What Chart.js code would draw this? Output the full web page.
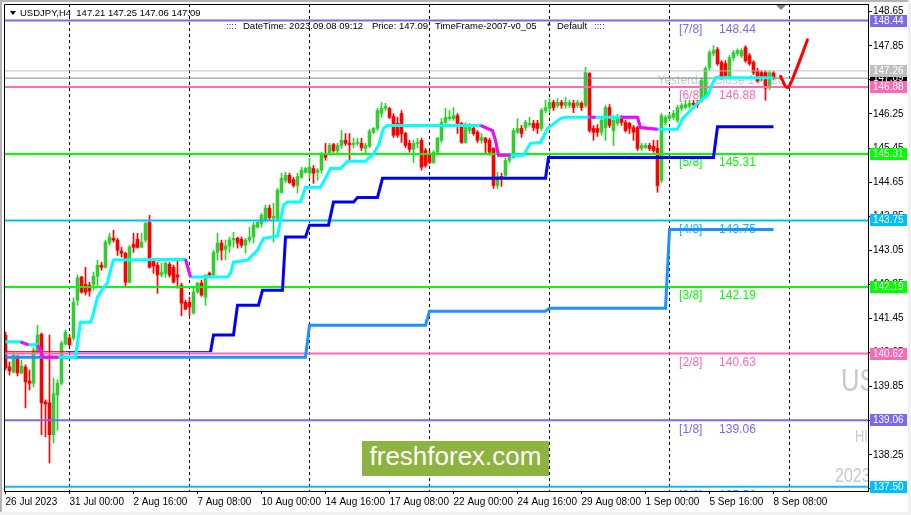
<!DOCTYPE html>
<html>
<head>
<meta charset="utf-8">
<script src="https://cdn.jsdelivr.net/npm/chart.js@4.4.0/dist/chart.umd.min.js"></script>
<style>
html, body { margin: 0; padding: 0; background: #fff; }
#wrap { position: relative; width: 911px; height: 515px; overflow: hidden; }
#logo {
    position: absolute; left: 362px; top: 441px; width: 187px; height: 35px;
    background: #8db340; color: #fff; text-align: center; line-height: 34px;
    font: 26px "Liberation Sans", Arial, sans-serif;
}
</style>
</head>
<body>
<div id="wrap">
    <canvas id="chart" width="911" height="515"></canvas>
    <div id="logo">freshforex.com</div>
</div>
<script>
// USDJPY H4 - bar 0 = 26 Jul 2023 08:00, bar 192 = 8 Sep 2023 08:00
const opens = [141.06,140.31,140.19,140.54,140.17,140.31,139.98,139.93,140.66,141.08,
    139.49,139.47,138.72,139.65,139.93,140.85,140.99,140.99,141.88,142.42,
    142.25,142.23,142.25,142.44,142.70,142.65,143.22,143.33,143.29,143.03,
    142.98,142.30,143.19,143.31,143.12,143.29,143.71,142.79,142.70,142.47,
    142.51,142.72,142.65,142.47,142.23,141.83,141.83,141.58,142.07,142.28,
    141.95,142.51,142.47,143.00,143.22,143.07,143.15,143.29,143.33,143.31,
    143.17,143.29,143.36,143.59,143.68,143.75,144.04,143.80,143.80,144.41,
    144.69,144.81,144.71,144.57,144.76,144.88,144.86,144.97,144.88,144.93,
    145.32,145.32,145.53,145.39,145.51,145.63,145.56,145.53,145.56,145.56,
    145.44,145.49,145.82,145.91,146.26,146.38,146.38,146.19,146.03,146.26,
    145.79,145.56,145.42,145.56,145.63,145.39,145.28,145.11,145.35,145.63,
    146.05,146.14,146.14,146.21,146.03,145.58,145.86,145.91,145.82,145.63,
    145.68,145.63,145.44,144.57,144.78,144.81,145.16,145.23,145.82,145.91,
    145.93,146.00,146.03,146.03,145.91,146.33,146.38,146.52,146.45,146.52,
    146.45,146.45,146.50,146.45,146.50,146.45,147.20,145.91,145.91,145.82,
    145.93,146.40,145.86,146.03,146.17,146.05,146.03,145.93,145.93,145.44,
    145.46,145.51,145.49,145.44,144.69,146.05,146.14,146.17,146.10,146.38,
    146.40,146.43,146.50,146.50,146.57,146.64,147.34,147.67,147.76,147.46,
    147.43,147.10,147.57,147.67,147.62,147.81,147.62,147.46,147.27,147.22,
    147.22,146.87,147.21];
const highs = [141.13,140.43,140.66,140.59,140.47,140.36,140.24,140.76,141.29,141.11,
    139.54,141.06,140.05,140.01,140.92,141.18,141.06,141.93,142.47,142.44,
    142.65,142.30,142.54,142.82,142.77,143.29,143.45,143.52,143.33,143.12,
    143.00,143.17,143.45,143.45,143.45,143.71,143.87,142.86,142.77,142.75,
    142.77,142.77,142.70,142.86,142.28,141.88,141.95,142.16,142.30,142.35,
    142.47,142.54,143.05,143.45,143.29,143.29,143.36,143.47,143.36,143.36,
    143.33,143.59,143.71,143.71,143.92,144.11,144.11,144.15,144.50,144.86,
    144.88,144.86,144.76,144.86,145.00,145.00,145.21,145.04,144.97,145.35,
    145.56,145.56,145.56,145.56,145.86,145.79,145.79,145.68,145.68,145.68,
    145.56,145.89,145.93,146.38,146.52,146.50,146.40,146.26,146.17,146.33,
    145.82,145.63,145.63,145.68,145.68,145.44,145.39,145.39,145.70,146.14,
    146.38,146.33,146.40,146.26,146.05,146.05,146.03,145.98,145.86,145.79,
    145.70,145.68,145.46,144.88,144.86,145.21,145.32,145.91,146.14,145.98,
    146.10,146.17,146.10,146.10,146.38,146.57,146.61,146.57,146.61,146.57,
    146.64,146.57,146.57,146.57,146.54,147.34,147.22,145.98,146.00,146.17,
    146.45,146.47,146.21,146.24,146.21,146.10,146.05,145.98,145.96,145.56,
    145.56,145.56,145.63,145.63,146.26,146.21,146.26,146.33,146.45,146.50,
    146.57,146.57,146.57,146.57,147.08,147.36,147.74,147.85,147.81,147.50,
    147.50,147.62,147.74,147.78,147.78,147.85,147.67,147.50,147.32,147.27,
    147.27,147.27,147.25];
const lows = [140.24,140.12,140.17,140.10,140.15,139.35,139.77,139.84,140.64,138.72,
    138.67,138.06,138.53,138.83,139.89,140.83,140.80,140.94,141.76,142.04,
    142.00,141.97,142.11,142.18,142.58,142.63,143.17,143.24,142.93,142.89,
    142.18,142.28,143.00,143.10,143.12,143.24,142.63,142.51,142.04,142.42,
    142.42,142.42,142.28,142.16,141.51,141.65,141.51,141.55,142.04,141.97,
    141.76,142.44,142.44,142.82,142.82,142.82,143.00,143.12,143.10,143.12,
    142.98,143.24,143.22,143.57,143.59,143.71,143.75,143.24,143.75,144.39,
    144.64,144.62,144.53,144.39,144.74,144.86,144.74,144.62,144.69,144.86,
    145.16,145.28,145.35,145.32,145.44,145.51,145.16,145.46,145.51,145.39,
    145.32,145.46,145.79,145.86,146.17,146.33,146.14,145.70,145.70,145.58,
    145.46,145.35,145.11,145.46,144.93,145.00,145.09,145.09,145.32,145.58,
    146.03,146.10,146.10,145.79,145.56,145.56,145.79,145.75,145.58,145.56,
    145.32,145.28,144.50,144.50,144.55,144.74,145.11,145.21,145.79,145.70,
    145.86,145.96,145.86,145.79,145.86,146.28,146.28,146.33,146.40,146.38,
    146.38,146.40,146.28,146.40,146.33,146.40,145.82,145.63,145.72,145.75,
    145.63,145.93,145.51,145.98,145.98,145.82,145.79,145.63,145.39,145.39,
    145.44,145.39,145.35,144.41,144.64,145.98,146.10,146.12,146.05,146.33,
    146.38,146.38,146.40,146.40,146.52,146.61,147.27,147.62,147.39,147.06,
    147.08,147.08,147.50,147.62,147.57,147.46,147.39,147.17,146.99,147.03,
    146.57,146.82,147.06];
const closes = [140.29,140.22,140.59,140.17,140.33,139.96,139.93,140.71,141.06,139.47,
    139.44,138.72,139.68,139.93,140.87,141.13,140.83,141.83,142.40,142.07,
    142.07,142.09,142.44,142.70,142.65,143.24,143.36,143.29,143.05,142.98,
    142.30,143.12,143.12,143.12,143.24,143.68,142.65,142.68,142.47,142.54,
    142.75,142.47,142.30,142.42,141.81,141.67,141.72,142.07,142.28,142.00,
    142.47,142.47,143.00,143.22,143.05,143.15,143.29,143.33,143.22,143.17,
    143.29,143.36,143.64,143.71,143.87,144.04,143.82,143.85,144.46,144.74,
    144.81,144.64,144.57,144.78,144.93,144.97,145.00,144.86,144.93,145.32,
    145.23,145.51,145.39,145.51,145.63,145.56,145.53,145.56,145.58,145.46,
    145.51,145.84,145.91,146.33,146.38,146.43,146.17,145.75,145.75,145.79,
    145.51,145.42,145.56,145.58,145.00,145.04,145.11,145.35,145.68,146.05,
    146.17,146.17,146.21,146.03,145.58,145.93,145.93,145.79,145.63,145.70,
    145.58,145.35,144.57,144.78,144.76,145.16,145.23,145.86,145.91,145.79,
    146.05,146.03,145.93,145.91,146.33,146.40,146.52,146.40,146.52,146.45,
    146.52,146.52,146.40,146.52,146.40,147.22,145.86,145.82,145.82,146.10,
    146.40,145.98,146.10,146.17,146.05,145.86,145.91,145.82,145.44,145.51,
    145.51,145.44,145.39,144.57,146.21,146.17,146.21,146.26,146.40,146.45,
    146.47,146.50,146.47,146.47,147.03,147.32,147.69,147.74,147.43,147.10,
    147.15,147.57,147.69,147.74,147.74,147.50,147.43,147.22,147.03,147.08,
    146.85,147.22,147.09];

// time axis
const timeTickIdx = [0, 16, 32, 48, 64, 80, 96, 112, 128, 144, 160, 176, 192];
const timeTickLabels = ['26 Jul 2023', '31 Jul 00:00', '2 Aug 16:00', '7 Aug 08:00', '10 Aug 00:00',
    '14 Aug 16:00', '17 Aug 08:00', '22 Aug 00:00', '24 Aug 16:00', '29 Aug 08:00',
    '1 Sep 00:00', '5 Sep 16:00', '8 Sep 08:00'];
const weekStartIdx = [16, 46, 76, 106, 136, 166, 196];

// price axis
const priceTicks = [137.45, 138.25, 139.05, 139.85, 140.65, 141.45, 142.25, 143.05,
    143.85, 144.65, 145.45, 146.25, 147.05, 147.85, 148.65];

// Murrey math levels
const levelNames = ['[7/8]', '[6/8]', '[5/8]', '[4/8]', '[3/8]', '[2/8]', '[1/8]', '[0/8]'];
const levelValues = [148.44, 146.88, 145.31, 143.75, 142.19, 140.63, 139.06, 137.50];
const levelColors = ['#7b68ee', '#ff69b4', '#00ff00', '#00bfff', '#00ff00', '#ff69b4', '#7b68ee', '#00bfff'];

// price tags on the right scale
const tagValues = [147.09, 147.26, 148.44, 146.88, 145.31, 143.75, 142.19, 140.62, 139.06, 137.50];
const tagColors = ['#000000', '#c0c0c0', '#7b68ee', '#ff69b4', '#00ff00', '#00bfff', '#00ff00', '#ff69b4', '#7b68ee', '#00bfff'];

const yesterdayClose = 147.26;
const lastPrice = 147.09;

// trailing line (cyan), with magenta parts
const cyanX = [0, 3.75, 5.75, 8, 9.5, 13.25, 17.5, 18.75, 21.25, 21.75, 23, 23.75, 24.5, 25.5, 25.75, 27,
    45, 46.25, 55.5, 56.25, 57, 60.5, 61.25, 63, 64.5, 68, 68.75, 69.5, 70.5, 73.75, 75, 78.75,
    80, 81.25, 83.75, 85.5, 90, 92, 93.25, 94.5, 95.5, 118.75, 121.75, 122.5, 123.25, 129.5,
    131.25, 133.75, 135.5, 138.75, 140, 158, 158.75, 163, 168, 169.25, 171.25, 173.75, 175.5,
    176.75, 177.5, 192];
const cyanY = [140.90, 140.90, 140.83, 140.83, 140.54, 140.54, 140.54, 141.36, 141.36, 141.48, 141.95, 142.07, 142.18, 142.28, 142.40, 142.82,
    142.84, 142.42, 142.42, 142.51, 142.77, 142.82, 142.89, 143.05, 143.33, 143.38, 143.75, 144.11, 144.18, 144.18, 144.53, 144.53,
    144.74, 144.97, 144.97, 145.14, 145.14, 145.32, 145.51, 145.91, 145.98, 145.98, 145.86, 145.63, 145.28, 145.28,
    145.56, 145.58, 145.91, 146.14, 146.17, 146.17, 145.93, 145.89, 145.89, 146.14, 146.33, 146.57, 146.68,
    146.96, 147.10, 147.10];
const magentaX = [3.75, 5.75, null, 8, 9.5, 13.25, null, 45, 46.25, null,
    118.75, 121.75, 122.5, 123.25, 126.25, null, 145.75, 147.5, null, 153.75, 158, 158.75, 163];
const magentaY = [140.90, 140.83, null, 140.83, 140.54, 140.54, null, 142.84, 142.42, null,
    145.98, 145.86, 145.63, 145.28, 145.28, null, 146.17, 146.17, null, 146.17, 146.17, 145.93, 145.89];

// daily step line (blue) and weekly step line (dodger blue)
const blueX = [51.25, 52, 57, 58, 63.25, 64.25, 69.25, 70, 75, 76, 80.75, 82, 87, 88, 93, 94.25, 135, 135.75, 177, 178, 192];
const blueY = [140.66, 141.06, 141.06, 141.76, 141.76, 142.11, 142.11, 143.36, 143.36, 143.64, 143.64, 144.18, 144.18, 144.29, 144.29, 144.74, 144.74, 145.23, 145.23, 145.95, 145.95];
const baseRedX = [0, 15];
const baseBlueX = [15, 51.25];
const baseValue = 140.67;
const dodgerX = [0, 75, 76, 105, 106, 135, 136, 165, 166, 192];
const dodgerY = [140.54, 140.54, 141.29, 141.29, 141.62, 141.62, 141.69, 141.69, 143.54, 143.54];

// hand drawn forecast
const arrowX = [193.75, 195.5, 197.5, 200.5];
const arrowY = [147.13, 146.87, 147.25, 147.99];

const X_MIN = -0.375;
const X_MAX = 215.625;
const Y_MIN = 137.40;
const Y_MAX = 148.83;
const FONT = '"Liberation Sans", Arial, sans-serif';

const idx = opens.map((_, i) => i);
const candleColors = idx.map(i => closes[i] >= opens[i] ? '#32cd32' : '#ff0000');

function pts(xs, ys) {
    return xs.map((x, i) => ({ x: x === null ? 0 : x, y: ys[i] }));
}

function flat(xs, v) {
    return xs.map(x => ({ x: x, y: v }));
}

function lineDs(data, color, width, order, extra) {
    return Object.assign({
        type: 'line',
        data: data,
        borderColor: color,
        borderWidth: width,
        pointRadius: 0,
        fill: false,
        tension: 0,
        spanGaps: false,
        order: order,
        xAxisID: 'x',
        yAxisID: 'y'
    }, extra || {});
}

function noPad(s) {
    s.paddingTop = 0;
    s.paddingBottom = 0;
    s.paddingLeft = 0;
    s.paddingRight = 0;
}

const datasets = [];

datasets.push(lineDs(pts(arrowX, arrowY), '#ff0000', 3, 0, { tension: 0.35, borderCapStyle: 'round' }));
datasets.push(lineDs(pts(magentaX, magentaY), '#ff00ff', 3, 1));
datasets.push(lineDs(pts(cyanX, cyanY), '#00ffff', 3, 2));
datasets.push(lineDs(pts(blueX, blueY), '#0000ff', 3, 3));
datasets.push(lineDs(flat(baseBlueX, baseValue), '#0000ff', 1, 3));
datasets.push(lineDs(flat(baseRedX, baseValue), '#ff0000', 1, 3));
datasets.push(lineDs(pts(dodgerX, dodgerY), '#1e90ff', 3, 4));

levelValues.forEach((v, k) => {
    datasets.push(lineDs(flat([X_MIN, X_MAX], v), levelColors[k], 2, 5));
});
datasets.push(lineDs(flat([X_MIN, X_MAX], yesterdayClose), '#c0c0c0', 1, 6));
datasets.push(lineDs(flat([X_MIN, X_MAX], lastPrice), '#778899', 1, 6));

// candles: body over wick
datasets.push({
    type: 'bar',
    data: idx.map(i => ({ x: i, y: [opens[i], closes[i]] })),
    backgroundColor: candleColors,
    borderWidth: 0,
    barThickness: 3,
    minBarLength: 1,
    grouped: false,
    order: 7,
    xAxisID: 'x',
    yAxisID: 'y'
});
datasets.push({
    type: 'bar',
    data: idx.map(i => ({ x: i, y: [lows[i], highs[i]] })),
    backgroundColor: candleColors,
    borderWidth: 0,
    barThickness: 1,
    minBarLength: 1,
    grouped: false,
    order: 8,
    xAxisID: 'x',
    yAxisID: 'y'
});

const overlay = {
    id: 'overlay',
    beforeDraw(chart) {
        const { ctx, width, height } = chart;
        ctx.save();
        ctx.fillStyle = '#ffffff';
        ctx.fillRect(0, 0, width, height);
        ctx.restore();
    },
    beforeDatasetsDraw(chart) {
        const { ctx, chartArea: a } = chart;
        const xs = chart.scales.x, ys = chart.scales.y;
        ctx.save();
        ctx.beginPath();
        ctx.rect(a.left, a.top, a.right - a.left, a.bottom - a.top);
        ctx.clip();

        // watermark on the right edge (condensed)
        ctx.fillStyle = '#c8c8c8';
        ctx.textBaseline = 'alphabetic';
        ctx.save();
        ctx.scale(0.8, 1);
        ctx.font = '32px ' + FONT;
        ctx.fillText('USDJPY', 841 / 0.8, 391);
        ctx.font = '16px ' + FONT;
        ctx.fillText('HIGH', 855 / 0.8, 442);
        ctx.font = '20px ' + FONT;
        ctx.fillText('2023.09.08', 835 / 0.8, 482);
        ctx.restore();

        // yesterday close caption
        ctx.font = '12px ' + FONT;
        ctx.textBaseline = 'top';
        ctx.fillStyle = '#c8c8c8';
        ctx.fillText('Yesterday Close ' + yesterdayClose.toFixed(2), xs.getPixelForValue(163), ys.getPixelForValue(yesterdayClose) + 4);

        // Murrey level captions
        levelValues.forEach((v, k) => {
            const y = ys.getPixelForValue(v) + 3;
            ctx.fillStyle = levelColors[k];
            ctx.fillText(levelNames[k], xs.getPixelForValue(168.4), y);
            ctx.fillText(v.toFixed(2), xs.getPixelForValue(178.4), y);
        });
        ctx.restore();
    },
    afterDraw(chart) {
        const { ctx, chartArea: a, width, height } = chart;
        const xs = chart.scales.x, ys = chart.scales.y;
        ctx.save();

        // window frame
        ctx.fillStyle = '#b4b4b4';
        ctx.fillRect(0, 0, width, 2);
        ctx.fillRect(0, 0, 2, height);
        ctx.fillStyle = '#f0f0f0';
        ctx.fillRect(0, height - 3, width, 3);
        ctx.fillRect(width - 3, 0, 3, height);

        // chart frame
        ctx.strokeStyle = '#000';
        ctx.lineWidth = 1;
        ctx.beginPath();
        ctx.moveTo(a.left + 0.5, a.bottom);
        ctx.lineTo(a.left + 0.5, a.top + 0.5);
        ctx.lineTo(a.right, a.top + 0.5);
        ctx.stroke();

        // price tags
        ctx.font = '10px ' + FONT;
        ctx.textBaseline = 'middle';
        tagValues.forEach((v, k) => {
            const y = Math.round(ys.getPixelForValue(v));
            ctx.fillStyle = tagColors[k];
            ctx.fillRect(a.right + 2, y - 6, 37, 12);
            ctx.fillStyle = '#ffffff';
            ctx.fillText(v.toFixed(2), a.right + 5, y + 0.5);
        });

        // shift marker
        const mx = Math.round(xs.getPixelForValue(193.75));
        ctx.fillStyle = '#808080';
        ctx.beginPath();
        ctx.moveTo(mx - 5, a.top + 1);
        ctx.lineTo(mx + 5, a.top + 1);
        ctx.lineTo(mx, a.top + 6);
        ctx.closePath();
        ctx.fill();

        // header
        ctx.fillStyle = '#000';
        ctx.beginPath();
        ctx.moveTo(10, 11);
        ctx.lineTo(16, 11);
        ctx.lineTo(13, 15);
        ctx.closePath();
        ctx.fill();
        ctx.font = '9.5px ' + FONT;
        ctx.fillText('USDJPY,H4  ' + [opens[192], highs[192], lows[192], closes[192]].map(v => v.toFixed(2)).join(' '), 20, 13);

        const parts = [
            ['::::', '#800080', 226],
            ['DateTime: 2023.09.08 09:12', '#000', 243],
            ['Price: ' + lastPrice.toFixed(2), '#000', 372],
            ['TimeFrame-2007-v0_05', '#000', 435],
            ['*', '#000', 547],
            ['Default', '#000', 557],
            ['::::', '#800080', 594]
        ];
        ctx.font = '9.5px ' + FONT;
        parts.forEach(p => {
            ctx.fillStyle = p[1];
            ctx.fillText(p[0], p[2], 26);
        });
        ctx.restore();
    }
};

new Chart(document.getElementById('chart'), {
    type: 'bar',
    data: { datasets: datasets },
    options: {
        responsive: false,
        animation: false,
        events: [],
        layout: { padding: { left: 4, top: 4, right: 0, bottom: 0 } },
        plugins: { legend: { display: false }, tooltip: { enabled: false } },
        scales: {
            x: {
                type: 'linear', position: 'bottom', min: X_MIN, max: X_MAX, offset: false,
                afterBuildTicks: s => { s.ticks = timeTickIdx.map(v => ({ value: v })); },
                afterFit: s => { s.height = 24; noPad(s); },
                ticks: {
                    autoSkip: false, maxRotation: 0, minRotation: 0, align: 'start', padding: 2,
                    color: '#000', font: { family: FONT, size: 10 },
                    callback: (v, k) => timeTickLabels[k]
                },
                grid: { drawOnChartArea: false, drawTicks: true, tickLength: 3, tickColor: '#000', offset: false },
                border: { display: true, color: '#000', width: 1 }
            },
            xg: {
                type: 'linear', position: 'bottom', min: X_MIN, max: X_MAX, offset: false,
                afterBuildTicks: s => { s.ticks = weekStartIdx.map(v => ({ value: v })); },
                afterFit: s => { s.height = 0; noPad(s); },
                ticks: { display: false },
                grid: { drawOnChartArea: true, drawTicks: false, color: '#000', lineWidth: 1, offset: false },
                border: { display: false, dash: [3, 3] }
            },
            y: {
                type: 'linear', position: 'right', min: Y_MIN, max: Y_MAX,
                afterBuildTicks: s => { s.ticks = priceTicks.map(v => ({ value: v })); },
                afterFit: s => { s.width = 43; noPad(s); },
                ticks: {
                    padding: 1, color: '#000', font: { family: FONT, size: 10 },
                    callback: v => v.toFixed(2)
                },
                grid: { drawOnChartArea: false, drawTicks: true, tickLength: 4, tickColor: '#000' },
                border: { display: true, color: '#000', width: 1 }
            }
        }
    },
    plugins: [overlay]
});
</script>
</body>
</html>
